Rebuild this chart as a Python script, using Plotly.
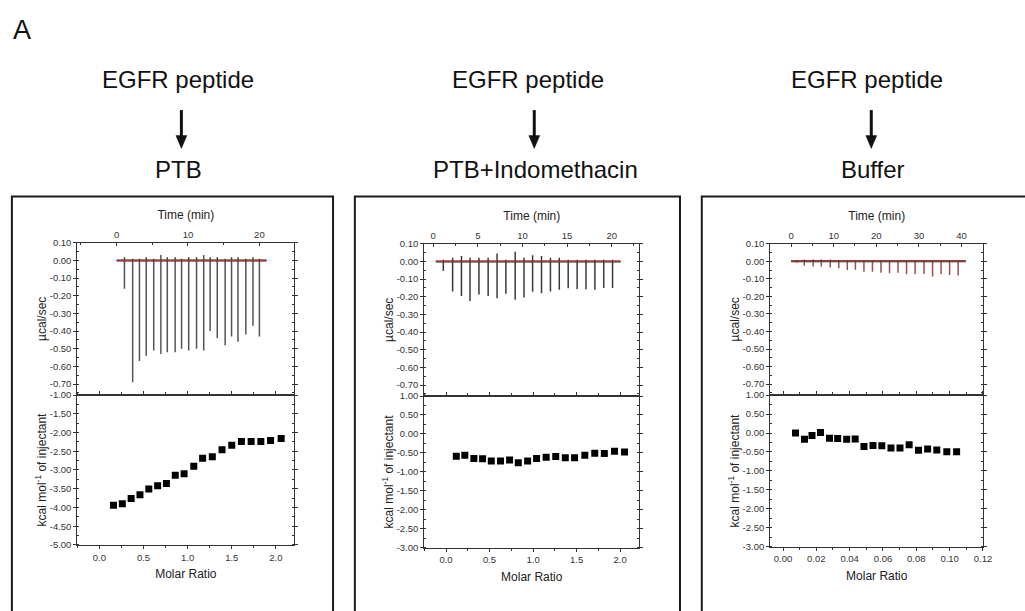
import plotly.graph_objects as go

W, H = 1025, 611
FONT = "Arial, Liberation Sans, sans-serif"

# ---------------- data ----------------
panel_titles_top = ["EGFR peptide", "EGFR peptide", "EGFR peptide"]
panel_titles_bottom = ["PTB", "PTB+Indomethacin", "Buffer"]

# Panel 1: PTB  (thermogram: injection time [min], peak depth, small overshoot [µcal/sec])
p1_inj_time = [1.1, 2.25, 3.2, 4.15, 5.2, 6.2, 7.1, 8.2, 9.1, 10.1,
               11.2, 12.2, 13.1, 14.1, 15.2, 16.1, 17.0, 18.1, 19.1, 20.0]
p1_peak = [-0.16, -0.69, -0.57, -0.54, -0.51, -0.53, -0.52, -0.52, -0.50, -0.51,
           -0.50, -0.51, -0.40, -0.44, -0.48, -0.43, -0.46, -0.42, -0.37, -0.43]
p1_over = [0.02, 0.01, 0.01, 0.02, 0.01, 0.03, 0.02, 0.02, 0.01, 0.02,
           0.02, 0.03, 0.02, 0.02, 0.01, 0.02, 0.02, 0.01, 0.02, 0.01]
p1_baseline_t = [0.0, 21.0]
p1_ratio = [0.16, 0.26, 0.36, 0.46, 0.56, 0.66, 0.76, 0.86, 0.96, 1.07,
            1.17, 1.28, 1.39, 1.50, 1.61, 1.72, 1.83, 1.94, 2.06]
p1_heat = [-3.94, -3.90, -3.76, -3.66, -3.51, -3.42, -3.36, -3.14, -3.10, -2.90,
           -2.69, -2.65, -2.46, -2.34, -2.24, -2.24, -2.24, -2.21, -2.16]

# Panel 2: PTB + Indomethacin
p2_inj_time = [1.14, 2.18, 3.17, 4.13, 5.13, 6.16, 7.16, 8.15, 9.19, 10.18,
               11.14, 12.14, 13.14, 14.13, 15.13, 16.13, 17.12, 18.12, 19.11, 20.1]
p2_peak = [-0.054, -0.17, -0.196, -0.224, -0.187, -0.196, -0.209, -0.183, -0.217, -0.204,
           -0.172, -0.18, -0.17, -0.16, -0.152, -0.156, -0.157, -0.161, -0.15, -0.15]
p2_over = [0.01, 0.02, 0.03, 0.02, 0.02, 0.02, 0.044, 0.01, 0.054, 0.02,
           0.035, 0.03, 0.02, 0.02, 0.01, 0.01, 0.01, 0.01, 0.01, 0.01]
p2_baseline_t = [0.3, 21.0]
p2_ratio = [0.118, 0.216, 0.32, 0.42, 0.52, 0.626, 0.73, 0.83, 0.937, 1.04,
            1.15, 1.26, 1.37, 1.476, 1.594, 1.708, 1.818, 1.935, 2.05]
p2_heat = [-0.585, -0.56, -0.645, -0.653, -0.713, -0.713, -0.687, -0.756, -0.713, -0.645,
           -0.61, -0.593, -0.627, -0.627, -0.559, -0.507, -0.516, -0.456, -0.473]

# Panel 3: Buffer
p3_inj_time = [1.3, 3.1, 5.2, 7.1, 9.2, 11.2, 13.2, 15.1, 17.1, 19.1,
               21.1, 23.1, 25.1, 27.1, 29.1, 31.2, 33.2, 35.2, 37.2, 39.2]
p3_peak = [-0.008, -0.025, -0.03, -0.03, -0.035, -0.04, -0.05, -0.048, -0.06, -0.06,
           -0.065, -0.068, -0.065, -0.074, -0.074, -0.072, -0.087, -0.074, -0.078, -0.081]
p3_over = [0.005, 0.01, 0.01, 0.01, 0.01, 0.008, 0.005, 0.005, 0.005, 0.005,
           0.004, 0.004, 0.004, 0.004, 0.004, 0.004, 0.004, 0.004, 0.004, 0.004]
p3_baseline_t = [0.0, 41.0]
p3_ratio = [0.0075, 0.0129, 0.0174, 0.0225, 0.0279, 0.0328, 0.0382, 0.0433, 0.0486, 0.054,
            0.0593, 0.0648, 0.0702, 0.0757, 0.0813, 0.0868, 0.0923, 0.0983, 0.1042]
p3_heat = [0.0, -0.164, -0.069, 0.01, -0.138, -0.147, -0.164, -0.155, -0.353, -0.328,
           -0.336, -0.397, -0.397, -0.31, -0.457, -0.422, -0.448, -0.491, -0.491]

upper_ticks = [0.10, 0.00, -0.10, -0.20, -0.30, -0.40, -0.50, -0.60, -0.70]
lower_ticks_ptb = [-5.0, -4.5, -4.0, -3.5, -3.0, -2.5, -2.0, -1.5, -1.0]
lower_ticks_other = [-3.0, -2.5, -2.0, -1.5, -1.0, -0.5, 0.0, 0.5, 1.0]

# ---------------- layout helpers ----------------
def px(x):
    return x / W

def py(y):
    return 1 - y / H

panels = [
    dict(xpx=(78, 297), top=(241, 396), bot=(396, 549),
         trange=[-5.5, 24.9], tdtick=10, rrange=[-0.25, 2.21], rdtick=0.5, rfmt=".1f",
         hrange=[-5.004, -0.996], hticks=lower_ticks_ptb,
         spike_color="#555555", base_color="#d03030",
         inj=p1_inj_time, peak=p1_peak, over=p1_over, bt=p1_baseline_t,
         ratio=p1_ratio, heat=p1_heat, rminor=0.25),
    dict(xpx=(428, 645), top=(242, 397), bot=(397, 552),
         trange=[-1.0, 23.1], tdtick=5, rrange=[-0.25, 2.22], rdtick=0.5, rfmt=".1f",
         hrange=[-3.004, 1.004], hticks=lower_ticks_other,
         spike_color="#3a3a3a", base_color="#d03030",
         inj=p2_inj_time, peak=p2_peak, over=p2_over, bt=p2_baseline_t,
         ratio=p2_ratio, heat=p2_heat, rminor=0.25),
    dict(xpx=(777, 992), top=(242, 396), bot=(396, 551),
         trange=[-4.9, 45.1], tdtick=10, rrange=[-0.0077, 0.1202], rdtick=0.02, rfmt=".2f",
         hrange=[-3.004, 1.004], hticks=lower_ticks_other,
         spike_color="#9a5050", base_color="#c83030",
         inj=p3_inj_time, peak=p3_peak, over=p3_over, bt=p3_baseline_t,
         ratio=p3_ratio, heat=p3_heat, rminor=0.01),
]

fig = go.Figure()
layout = dict(
    width=W, height=H, margin=dict(l=0, r=0, t=0, b=0),
    paper_bgcolor="white", plot_bgcolor="white", showlegend=False,
    font=dict(family=FONT, color="#222"),
)

AX_LINE = "#333"
tickfont = dict(family=FONT, size=9.5, color="#333")
titlefont = dict(family=FONT, size=12, color="#222")

annotations = []
shapes = []

for i, p in enumerate(panels):
    n = 2 * i + 1
    xt, yt = f"x{n}", f"y{n}"
    xb, yb = f"x{n+1}", f"y{n+1}"
    xt_key = "xaxis" if n == 1 else f"xaxis{n}"
    yt_key = "yaxis" if n == 1 else f"yaxis{n}"
    xb_key, yb_key = f"xaxis{n+1}", f"yaxis{n+1}"

    # thermogram spikes
    xs, ys = [], []
    for t, d, o in zip(p["inj"], p["peak"], p["over"]):
        xs += [t, t, None]
        ys += [o, d, None]
    fig.add_trace(go.Scatter(x=xs, y=ys, mode="lines", xaxis=xt, yaxis=yt,
                             line=dict(color=p["spike_color"], width=1.5),
                             hoverinfo="skip"))
    # raw baseline + fitted baseline
    fig.add_trace(go.Scatter(x=p["bt"], y=[0, 0], mode="lines", xaxis=xt, yaxis=yt,
                             line=dict(color="#222", width=2), hoverinfo="skip"))
    fig.add_trace(go.Scatter(x=p["bt"], y=[0, 0], mode="lines", xaxis=xt, yaxis=yt,
                             line=dict(color=p["base_color"], width=1), hoverinfo="skip"))
    # integrated heats
    fig.add_trace(go.Scatter(x=p["ratio"], y=p["heat"], mode="markers", xaxis=xb, yaxis=yb,
                             marker=dict(symbol="square", size=7, color="black")))

    dom_x = [px(p["xpx"][0]), px(p["xpx"][1])]
    common = dict(showline=True, linecolor=AX_LINE, linewidth=1, showgrid=False,
                  zeroline=False, tickfont=tickfont, ticklen=3, tickwidth=1,
                  tickcolor=AX_LINE)

    layout[xt_key] = dict(common, domain=dom_x, anchor=yt, side="top",
                          range=p["trange"], dtick=p["tdtick"], tick0=0,
                          ticks="inside", mirror=True,
                          minor=dict(ticks="inside", ticklen=2, dtick=p["tdtick"] / 2,
                                     tickcolor=AX_LINE),
                          title=dict(text="Time (min)", font=titlefont, standoff=6))
    layout[yt_key] = dict(common, domain=[py(p["top"][1]), py(p["top"][0])], anchor=xt,
                          range=[-0.761, 0.1005], tickmode="array",
                          tickvals=upper_ticks,
                          ticktext=[f"{v:.2f}" for v in upper_ticks],
                          ticks="outside", mirror="ticks",
                          minor=dict(ticks="inside", ticklen=2, dtick=0.05,
                                     tickcolor=AX_LINE),
                          title=dict(text="µcal/sec", font=titlefont, standoff=0))
    layout[xb_key] = dict(common, domain=dom_x, anchor=yb, side="bottom",
                          range=p["rrange"], dtick=p["rdtick"], tick0=0,
                          tickformat=p["rfmt"], ticks="outside", mirror="ticks",
                          minor=dict(ticks="outside", ticklen=2, dtick=p["rminor"],
                                     tickcolor=AX_LINE),
                          title=dict(text="Molar Ratio", font=titlefont, standoff=8))
    layout[yb_key] = dict(common, domain=[py(p["bot"][1]), py(p["bot"][0])], anchor=xb,
                          range=p["hrange"], tickmode="array", tickvals=p["hticks"],
                          ticktext=[f"{t:.2f}" for t in p["hticks"]],
                          ticks="outside", mirror="ticks",
                          minor=dict(ticks="inside", ticklen=2, dtick=0.25,
                                     tickcolor=AX_LINE),
                          title=dict(text="kcal mol<sup>-1</sup> of injectant",
                                     font=titlefont, standoff=0))

# panel frames (open at the bottom edge of the image)
for x0, x1 in [(12, 336), (358, 686), (708, 1040)]:
    shapes.append(dict(type="rect", xref="paper", yref="paper",
                       x0=px(x0), x1=px(x1), y0=py(640), y1=py(194),
                       line=dict(color="#1a1a1a", width=2), fillcolor="rgba(0,0,0,0)",
                       layer="above"))

# headings + arrows (arrows drawn as a shaft and a triangular head)
heads = [(180, 183, 180), (533, 539, 540), (875, 879, 881)]
for (xt_c, xa, xb_c), t_top, t_bot in zip(heads, panel_titles_top, panel_titles_bottom):
    annotations.append(dict(x=px(xt_c), y=py(75), xref="paper", yref="paper",
                            text=t_top, showarrow=False, xanchor="center", yanchor="middle",
                            font=dict(family=FONT, size=24, color="#111")))
    annotations.append(dict(x=px(xb_c), y=py(166), xref="paper", yref="paper",
                            text=t_bot, showarrow=False, xanchor="center", yanchor="middle",
                            font=dict(family=FONT, size=24, color="#111")))
    shapes.append(dict(type="line", xref="paper", yref="paper",
                       x0=px(xa), x1=px(xa), y0=py(106), y1=py(134),
                       line=dict(color="#111", width=3)))
    shapes.append(dict(type="path", xref="paper", yref="paper",
                       path=(f"M {px(xa - 5.5)} {py(132)} L {px(xa + 5.5)} {py(132)} "
                             f"L {px(xa)} {py(145)} Z"),
                       fillcolor="#111", line=dict(color="#111", width=0.5)))

annotations.append(dict(x=px(22), y=py(24), xref="paper", yref="paper", text="A",
                        showarrow=False, xanchor="center", yanchor="middle",
                        font=dict(family=FONT, size=27, color="#111")))

layout["annotations"] = annotations
layout["shapes"] = shapes
fig.update_layout(**layout)
fig.write_html("out.html", config={"displayModeBar": False},
               post_script="document.body.style.margin='0px';"
                           "document.body.style.overflow='hidden';")
